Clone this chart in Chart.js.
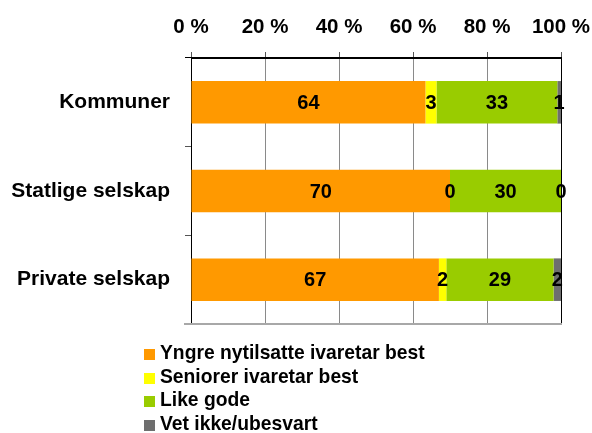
<!DOCTYPE html>
<html>
<head>
<meta charset="utf-8">
<script src="https://cdn.jsdelivr.net/npm/chart.js@4"></script>
<style>
  body { margin: 0; background: #fff; }
  #wrap { position: relative; width: 592px; height: 433px; }
  #legend { position: absolute; left: 144px; top: 341px; font: bold 19.3px "Liberation Sans", Arial, sans-serif; color: #000; }
  .item { height: 23.5px; line-height: 23.5px; white-space: nowrap; }
  .box { display: inline-block; width: 11px; height: 11px; margin-right: 5px; vertical-align: -1px; }
</style>
</head>
<body>
<div id="wrap">
  <canvas id="chart" width="592" height="433"></canvas>
  <div id="legend"></div>
</div>
<script>
// Categories and answers (shown as percent of each row)
const categories = ['Kommuner', 'Statlige selskap', 'Private selskap'];
const seriesNames = ['Yngre nytilsatte ivaretar best', 'Seniorer ivaretar best', 'Like gode', 'Vet ikke/ubesvart'];
const yngre = [64, 70, 67];
const seniorer = [3, 0, 2];
const likeGode = [33, 30, 29];
const vetIkke = [1, 0, 2];
const tickValues = [0, 20, 40, 60, 80, 100];

const colors = ['#FF9900', '#FFFF00', '#99CC00', '#6E6E6E'];
const font = '"Liberation Sans", Arial, sans-serif';

const series = [yngre, seniorer, likeGode, vetIkke];
// 100 % stacked: each row is scaled to its own total
const totals = categories.map((c, i) => series.reduce((acc, s) => acc + s[i], 0));

const datasets = series.map((s, k) => ({
    label: seriesNames[k],
    data: s.map((v, i) => v / totals[i] * 100),
    raw: s,
    backgroundColor: colors[k],
    borderWidth: 0,
    categoryPercentage: 1,
    barPercentage: 0.48
}));

// top and bottom edges of the plot area
const plotFrame = {
    id: 'plotFrame',
    afterDraw(chart) {
        const { ctx, chartArea: a } = chart;
        const top = Math.round(a.top), bottom = Math.round(a.bottom);
        ctx.save();
        ctx.fillStyle = '#000';
        ctx.fillRect(a.left - 6, top - 1, a.right - a.left + 7, 1);
        ctx.fillStyle = '#a8a8a8';
        ctx.fillRect(a.left - 7, bottom - 1, a.right - a.left + 8, 2);
        ctx.restore();
    }
};

// value labels in the middle of each segment
const barLabels = {
    id: 'barLabels',
    afterDatasetsDraw(chart) {
        const ctx = chart.ctx;
        ctx.save();
        ctx.font = 'bold 20px ' + font;
        ctx.fillStyle = '#000';
        ctx.textAlign = 'center';
        ctx.textBaseline = 'middle';
        chart.data.datasets.forEach((ds, k) => {
            chart.getDatasetMeta(k).data.forEach((el, i) => {
                ctx.fillText(String(ds.raw[i]), (el.x + el.base) / 2, el.y + 1);
            });
        });
        ctx.restore();
    }
};

new Chart(document.getElementById('chart'), {
    type: 'bar',
    data: { labels: categories, datasets: datasets },
    options: {
        indexAxis: 'y',
        responsive: false,
        animation: false,
        layout: { padding: { left: 0, right: 31, top: 0, bottom: 109 } },
        scales: {
            x: {
                position: 'top',
                stacked: true,
                min: 0,
                max: 100,
                afterBuildTicks: scale => { scale.ticks = tickValues.map(v => ({ value: v })); },
                afterFit: scale => {
                    scale.height = 58;
                    scale.paddingLeft = 0;
                    scale.paddingRight = 0;
                },
                ticks: {
                    callback: v => v + ' %',
                    color: '#000',
                    padding: 12,
                    font: { family: font, size: 20.5, weight: 'bold' }
                },
                grid: {
                    color: c => (c.tick && c.tick.value === 100) ? '#000' : '#8a8a8a',
                    tickColor: '#555',
                    tickLength: 6
                },
                border: { color: '#000' }
            },
            y: {
                stacked: true,
                afterFit: scale => { scale.width = 191; },
                ticks: {
                    color: '#000',
                    padding: 15,
                    font: { family: font, size: 21, weight: 'bold' }
                },
                grid: { drawOnChartArea: false, tickLength: 6, tickColor: '#555' },
                border: { color: '#000' }
            }
        },
        plugins: {
            legend: { display: false },
            tooltip: { enabled: false }
        }
    },
    plugins: [plotFrame, barLabels]
});

// legend listed under the chart
const legend = document.getElementById('legend');
seriesNames.forEach((name, k) => {
    const row = document.createElement('div');
    row.className = 'item';
    row.innerHTML = '<span class="box" style="background:' + colors[k] + '"></span>' + name;
    legend.appendChild(row);
});
</script>
</body>
</html>
